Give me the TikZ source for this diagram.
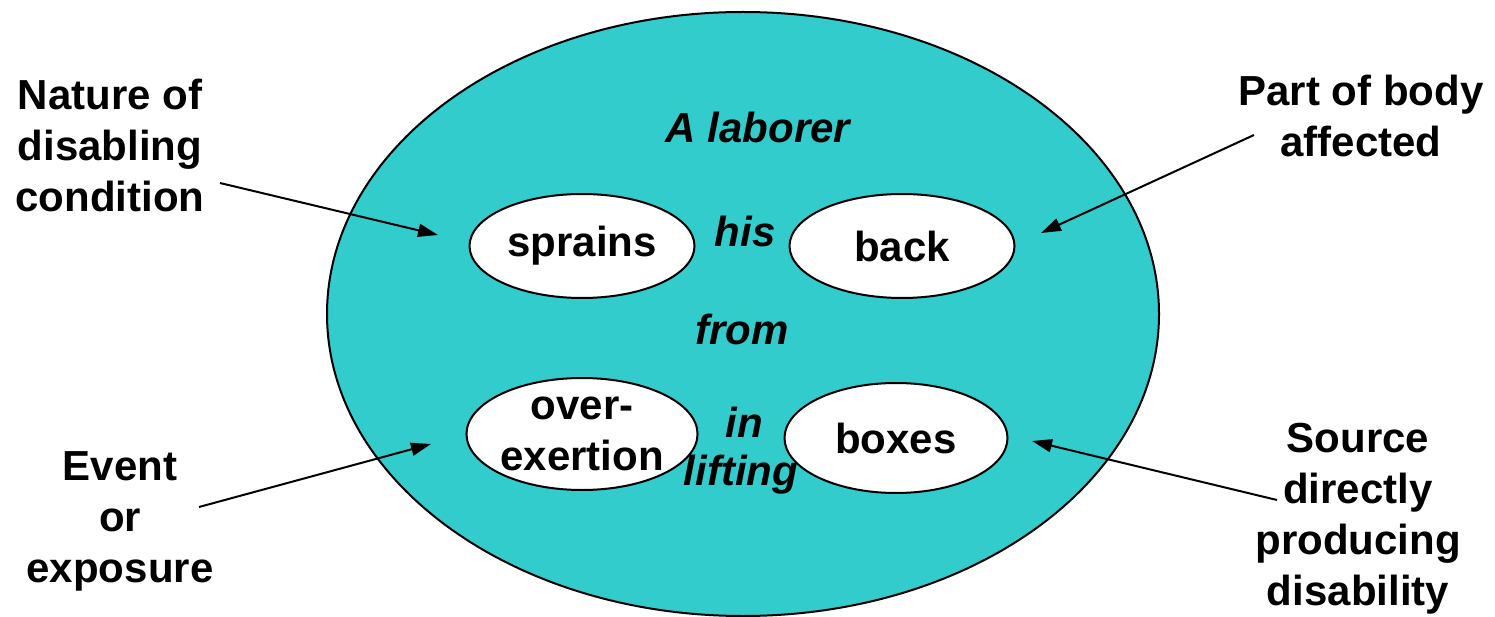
\documentclass[tikz,border=0pt]{standalone}
\usepackage{fontspec}
\setmainfont{Liberation Sans}
\usetikzlibrary{arrows.meta, shapes.geometric}
\definecolor{casefill}{RGB}{51,204,204}

\begin{document}
\begin{tikzpicture}[x=1pt,y=-1pt,>={Triangle[length=20pt,width=13pt]},line width=2pt,
  every node/.style={font=\fontsize{42}{51}\selectfont\bfseries},
  label node/.style={align=center},
  part node/.style={ellipse,draw,fill=white,inner sep=0pt,minimum width=225pt,minimum height=104pt,align=center},
  link word/.style={font=\fontsize{42}{51}\selectfont\bfseries\itshape,anchor=base}]
  \useasboundingbox (0,0) rectangle (1495,617);
  \node[ellipse,draw,fill=casefill,inner sep=0pt,minimum width=832pt,minimum height=604pt] (incident) at (743,314) {};
  % the sentence inside
  \node[link word] (laborer) at (758,143) {A laborer};
  \node[part node] (sprains) at (582,246) {sprains};
  \node[link word] (his) at (745,247) {his};
  \node[part node] (back) at (902,246) {back};
  \node[link word] (from) at (742,344) {from};
  \node[part node,minimum height=112pt] (overexertion) at (582,434) {over-\\exertion};
  \node[link word] (in) at (744,437) {in};
  \node[link word] (lifting) at (741,485) {lifting};
  \node[part node,minimum width=223pt,minimum height=110pt] (boxes) at (896,438) {boxes};
  % labels round it
  \node[label node] (nature) at (110,145) {Nature of\\disabling\\condition};
  \node[label node] (body) at (1361,116) {Part of body\\affected};
  \node[label node] (event) at (120,521) {Event\\or\\exposure};
  \node[label node] (source) at (1358,519) {Source\\directly\\producing\\disability};
  \coordinate (naturestart) at (220,183);
  \coordinate (naturetip) at (438,235);
  \coordinate (bodystart) at (1254,135);
  \coordinate (bodytip) at (1041,233);
  \coordinate (eventstart) at (199,507);
  \coordinate (eventtip) at (431,444);
  \coordinate (sourcestart) at (1277,500);
  \coordinate (sourcetip) at (1032,441);
  \path[->]
     (naturestart) edge (naturetip)
     (bodystart) edge (bodytip)
     (eventstart) edge (eventtip)
     (sourcestart) edge (sourcetip);
\end{tikzpicture}
\end{document}
